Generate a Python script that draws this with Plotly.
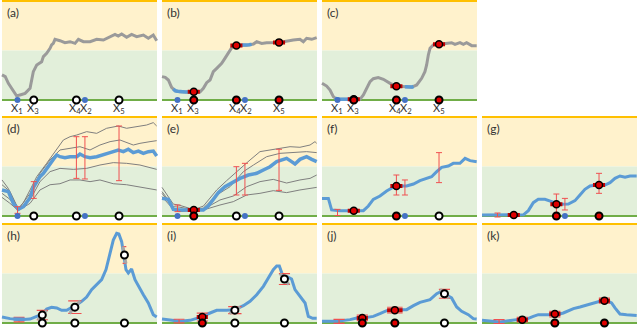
import numpy as np
import plotly.graph_objects as go

W, H = 640, 328
FONT = "Lato, Liberation Sans, Arial, sans-serif"

YELLOW_BG = "#FFF2CC"
GREEN_BG = "#E2EFDA"
YELLOW_LINE = "#FFC000"
GREEN_LINE = "#70AD47"
GRAY = "#9A9A9A"
THIN_GRAY = "#7F7F7F"
BLUE = "#5B9BD5"
DOT_BLUE = "#4472C4"
RED = "#E00000"
ERR_RED = "#F05050"

# ---------------- data ----------------
panel_names = ["(a)", "(b)", "(c)", "(d)", "(e)", "(f)", "(g)", "(h)", "(i)", "(j)", "(k)"]

x_obs = [10, 20.5, 48, 53.5, 75.5]          # X1, X3, X4, X2, X5
x_tick_pos = [9.5, 20.2, 46.8, 54.4, 75.4]
x_tick_text = ["X<sub>1</sub>", "X<sub>3</sub>", "X<sub>4</sub>", "X<sub>2</sub>", "X<sub>5</sub>"]
p_obs = [11, 26, 47, 79]                    # row 3 sample locations

a_x = [0, 2.1, 4.1, 7.3, 9.5, 11.6, 14.9, 18.1, 19.1, 20.2, 22.4, 25.6, 26.7, 28.8, 31, 32, 33.1, 34.2,
       37.4, 40.6, 43.9, 47.1, 49.3, 52.5, 56.8, 61.1, 65.4, 69.7, 72.9, 75, 77.2, 80.4, 83.6, 86.9,
       91.2, 94.4, 97.6, 99.8]
a_y = [25.3, 23.6, 16.8, 8.4, 4, 5.1, 6.7, 11.8, 20.2, 28.6, 35.4, 38.7, 43.8, 47.1, 52.2, 55.6, 57.2, 61.3,
       59.9, 57.9, 58.9, 57.2, 61.3, 58.9, 58.9, 61.3, 60.6, 64, 66.3, 64.6, 66.7, 63.3, 66.3, 64,
       65.6, 62.3, 65.6, 59.9]

b_x = [0, 2.1, 4.1, 6.2, 8.4, 11.6, 16, 20.2, 24.5, 26.7, 28.8, 31, 33.1, 35.3, 38.5, 40.6, 42.8, 45, 47.1,
       50.3, 54.6, 59, 61.1, 64.3, 67.5, 71.8, 75, 78.3, 81.5, 84.7, 89, 91.2, 93.3, 96.6, 99.8]
b_y = [23.6, 22.9, 20.2, 12.8, 9.4, 8.4, 8.1, 8.4, 8.1, 11.8, 17.5, 20.2, 28.6, 32, 37, 42.1, 47.1, 52.9, 54.9,
       55.6, 55.2, 56.6, 58.9, 57.2, 57.9, 57.9, 58.2, 58.9, 59.9, 60.6, 61.3, 58.9, 62.3, 61.3, 63]

c_x = [0, 3, 5.2, 7.3, 9.5, 13.8, 20.2, 24.5, 26.7, 28.8, 31, 33.1, 36.3, 39.6, 43.9, 48.2, 52.5, 57.8, 61.1,
       64.3, 66.4, 67.5, 68.6, 69.7, 71.8, 76.1, 80.4, 83.6, 85.8, 89, 91.2, 93.3, 96.6, 99.8]
c_y = [17, 14.1, 10.1, 3.4, 0.7, 0.7, 0.7, 0.7, 5.1, 11.8, 18.5, 21.5, 22.6, 20.9, 16.8, 14.1, 13.5, 12.8, 15.2,
       21.9, 28.6, 35.4, 45.5, 52.2, 55.6, 56.2, 57.2, 57.9, 56.2, 57.9, 56.2, 57.9, 54.9, 54.9]

d_x = [0, 4.1, 7.3, 10.5, 13.8, 18.1, 20.2, 22.4, 24.5, 26.7, 28.8, 31, 33.1, 35.3, 37.4, 40.6, 43.9, 48.2,
       50.3, 53.5, 56.8, 61.1, 65.4, 69.7, 75, 78.3, 81.5, 84.7, 88, 91.2, 94.4, 97.6, 99.8]
d_y = [26.3, 24.6, 12.8, 6.7, 9.4, 18.5, 28.6, 34.7, 39.7, 43.1, 48.1, 53.2, 57.2, 61.6, 59.9, 58.9, 59.9, 59.9,
       62.6, 59.9, 58.9, 59.9, 61.6, 64, 66.7, 65, 67.4, 64, 65.6, 63.3, 65, 65.6, 60.6]
d_thin = [
    ([0, 4, 10.5, 14, 18.1, 22.4, 28.8, 35.3, 39.6, 43.9, 48.2, 54.6, 61.1, 67.5, 75, 80.4, 86.9, 93.3, 97.6, 99.8],
     [36.4, 28, 7.5, 14, 26.3, 39.7, 53.2, 66.7, 76.8, 80.1, 81.8, 85.2, 83.5, 88.6, 90.9, 88.6, 90.2, 91.9, 94.3, 90.9]),
    ([0, 5, 10.5, 18.1, 24.5, 31, 37.4, 43.9, 50.3, 56.8, 63.2, 69.7, 76.1, 84.7, 89, 95.5, 99.8],
     [31.6, 25, 6.5, 22.9, 43.1, 56.6, 66.7, 68.4, 70, 66.7, 71.7, 75.1, 76.8, 71.7, 73.4, 75.1, 76.1]),
    ([0, 5, 10.5, 18.1, 24.5, 31, 37.4, 46, 54.6, 63.2, 71.8, 80.4, 89, 99.8],
     [22.9, 17, 6, 16.2, 34.7, 44.8, 48.1, 47.1, 48.1, 51.5, 53.9, 53.2, 51.5, 47.1]),
    ([0, 5, 10.5, 18.1, 24.5, 31, 37.4, 43.9, 50.3, 56.8, 63.2, 71.8, 80.4, 89, 99.8],
     [18.8, 13, 5.5, 12.8, 26.3, 31.6, 32.6, 36.4, 36.4, 34.7, 36.4, 32.6, 31.6, 29.3, 26.3]),
]
d_err_lo = [2.7, 17.8, 38, 37.4, 35.7]
d_err_hi = [9.4, 34.7, 80.1, 80.1, 90.9]

e_x = [0, 4.1, 7.3, 11.6, 20.2, 26.7, 29.9, 33.1, 36.3, 40.6, 45, 50.3, 55.7, 61.1, 65.4, 69.7, 74, 77.2,
       80.4, 83.6, 85.8, 89, 93.3, 96.6, 99.8]
e_y = [17.8, 16.8, 6.7, 6.1, 6.1, 6.1, 10.1, 16.8, 23.6, 29.6, 33.3, 38, 41.4, 43.1, 46.5, 49.8, 54.9, 56.6,
       58.2, 54.9, 52.5, 57.2, 59.9, 57.2, 54.9]
e_thin = [
    ([0, 7.3, 11, 15, 20.5, 26.7, 35.3, 41.7, 50.3, 56.8, 63.2, 69.7, 76.1, 82.6, 89, 95.5, 98.7, 99.8],
     [28.9, 12, 11, 9, 6.5, 10, 26.3, 35.7, 48.1, 56.6, 65, 66.7, 68.4, 70, 69.4, 71.7, 75.1, 73.4]),
    ([0, 7.3, 11, 20.5, 26.7, 35.3, 43.9, 52.5, 59, 67.5, 76.1, 84.7, 93.3, 99.8],
     [24.6, 9.4, 9, 6.3, 8, 21.2, 29.6, 44.8, 51.5, 59.9, 63.3, 64, 65, 64]),
    ([0, 7.3, 11, 20.5, 26.7, 37.4, 46, 54.6, 63.2, 71.8, 80.4, 89, 95.5, 99.8],
     [22.9, 7.7, 5, 6, 6.7, 16.2, 20.2, 29.6, 34.7, 37, 33.3, 36.4, 38, 41.4]),
    ([0, 7.3, 11, 20.5, 26.7, 37.4, 46, 54.6, 63.2, 71.8, 80.4, 89, 99.8],
     [19.5, 6.7, 4.5, 5.8, 6.1, 11.1, 14.5, 21.2, 22.9, 25.6, 23.6, 26.3, 28.9]),
]
e_err_lo = [4.4, None, 21.2, 21.2, 25.9]
e_err_hi = [11.1, None, 49.8, 53.2, 67.4]

f_x = [0, 4.1, 6.2, 11.6, 20.2, 26.7, 29.9, 33.1, 37.4, 41.7, 46, 50.3, 54.6, 59, 63.2, 67.5, 70.7, 74,
       77.2, 81.5, 84.7, 89, 92.3, 95.5, 99.8]
f_y = [17.8, 17.8, 6.1, 5.4, 5.4, 5.4, 10.1, 16.8, 20.2, 25.3, 29, 30.3, 30.3, 32.3, 35.7, 38, 39.7, 44.8,
       49.1, 50.5, 53.2, 53.2, 58.2, 55.9, 54.9]
f_err_lo = [0.5, 3.4, 21.2, 21.2, 33.7]
f_err_hi = [6.7, 7.4, 41.4, 36.4, 64]

g_x = [0, 11.6, 26.7, 29.9, 33.1, 36.3, 40.6, 45, 50.3, 55.7, 60, 63.2, 66.4, 69.7, 74, 79.3, 82.6, 85.8,
       89, 92.3, 95.5, 99.8]
g_y = [1, 1, 1.2, 5.4, 13.5, 16.8, 16.8, 14.5, 11.8, 12.1, 15.5, 21.2, 26.9, 30.3, 31.3, 31.3, 33.7, 38,
       40.4, 39.1, 40.4, 40.4]
g_err_lo = [-1, -1, 2, 6.1, 22.9]
g_err_hi = [3, 3, 22.2, 17.8, 43.1]

h_x = [0, 5.2, 11.6, 18.1, 22.4, 25.6, 28.8, 32, 35.3, 38.5, 41.7, 44.9, 48.2, 51.4, 54.6, 57.8, 61.1, 64.3,
       67.1, 69.7, 71.8, 74, 75.4, 77.2, 78.7, 80, 81.5, 83.6, 85.8, 88, 91.2, 94.4, 97.6, 99.8]
h_y = [6.1, 4.4, 3.4, 4, 6.7, 8.4, 14.1, 15.8, 15.2, 12.8, 12.8, 15.2, 18.5, 21.9, 26.2, 33.7, 38.7, 43.8,
       53.9, 70.7, 83.8, 90.6, 89.9, 82.2, 67, 53.9, 50.5, 54.5, 43.8, 37, 28.6, 20.2, 8.4, 6.1]

i_x = [0, 5.2, 11.6, 18.1, 24.5, 31, 35.3, 41.7, 47.1, 52.5, 56.8, 61.1, 65.4, 68.6, 71.8, 74, 75.7, 77.2,
       79.3, 81, 83.6, 85.8, 89, 92.3, 94.4, 97.2, 99.8]
i_y = [4, 2.7, 1.7, 2.7, 5.7, 10.1, 12.8, 12.8, 13.5, 17.5, 21.9, 28.6, 37, 45.5, 53.9, 57.6, 57.6, 50.9,
       43.8, 46.5, 44.4, 33.7, 26.9, 20.2, 6.7, 4.7, 4.7]

j_x = [0, 9.5, 18.1, 22.4, 26.7, 33.1, 37.4, 41.7, 48.2, 54.6, 59, 63.2, 69.7, 74, 76.6, 80.4, 83.6, 86.9,
       90.1, 94.4, 97.6, 99.8]
j_y = [1.7, 1.7, 3.4, 5.1, 5.1, 6.7, 9.4, 12.5, 13.5, 13.5, 17.5, 20.9, 23.6, 29.6, 31.6, 28.6, 25.3, 16.2,
       11.8, 8.4, 4.4, 4]

k_x = [0, 11.6, 22.4, 28.8, 33.1, 36.3, 41.7, 48.2, 52.5, 59, 63.2, 71.8, 76.1, 80.4, 83.6, 85.8, 89, 93.3, 99.8]
k_y = [2.7, 1, 3.4, 4, 6.7, 8.4, 8.4, 8.4, 10.1, 14.5, 16.2, 19.5, 21.9, 22.6, 20.2, 15.2, 9.1, 8.4, 7.7]

# observations on the curve (index into x_obs) for rows 1-2
b_obs_idx, b_obs_y = [1, 2, 4], [8.4, 55, 58.2]
c_obs_idx, c_obs_y = [1, 2, 4], [0.7, 14, 56.2]
e_obs_idx, e_obs_y = [1], [6.1]
f_obs_idx, f_obs_y = [1, 2], [5.4, 30.3]
g_obs_idx, g_obs_y = [1, 2, 4], [1, 11.8, 31.3]
b_blue = [(7.3, 19.1), (51.4, 57.8)]
c_blue = [(8.4, 19.1), (53.5, 59)]

# row 3: value, slope half-height, half-width, kind
h_pt_y, h_pt_dy, h_pt_dx, h_pt_kind = [3.4, 8, 16, 68.7], [2.2, 4.7, 6.4, -8.5], [3.5, 3.6, 4.3, 1.2], ["b", "o", "o", "o"]
i_pt_y, i_pt_dy, i_pt_dx, i_pt_kind = [2, 6, 13, 44.4], [1.8, 4, 3.5, -5.5], [3.5, 3.6, 4.3, 3.6], ["", "r", "o", "o"]
j_pt_y, j_pt_dy, j_pt_dx, j_pt_kind = [1.7, 5.1, 13, 29.5], [2, 2.8, 2.9, -4.5], [3.6, 3.6, 5, 3.6], ["", "r", "r", "o"]
k_pt_y, k_pt_dy, k_pt_dx, k_pt_kind = [1.5, 3.4, 9, 22.6], [2, 2.4, 2.8, 2.5], [3.6, 3.6, 3.6, 3.6], ["", "r", "r", "r"]

# markers on the bottom line
bottom_kinds = [
    ["b", "o", "o", "b", "o"],
    ["b", "r", "r", "b", "r"],
    ["b", "r", "r", "b", "r"],
    ["b", "o", "o", "b", "o"],
    ["b", "r", "o", "b", "o"],
    ["", "", "r", "b", "o"],
    ["", "", "r", "b", "r"],
    ["", "o", "o", "o"],
    ["", "r", "o", "o"],
    ["", "r", "r", "o"],
    ["", "", "r", "r"],
]

# ---------------- layout geometry ----------------
COL_LEFT = [2, 162, 322, 482]
PANEL_W = 155
ROW_TB = [(1, 100), (117, 216), (224, 323)]
XR = (-1, 101)
YR = (-4, 101)
grid_pos = [(0, 0), (0, 1), (0, 2), (1, 0), (1, 1), (1, 2), (1, 3), (2, 0), (2, 1), (2, 2), (2, 3)]

fig = go.Figure()
layout = dict(
    width=W, height=H, margin=dict(l=0, r=0, t=0, b=0),
    paper_bgcolor="white", plot_bgcolor="rgba(0,0,0,0)",
    showlegend=False, font=dict(family=FONT, size=12, color="#333333"),
)
shapes, annotations = [], []


def ax_names(i):
    s = "" if i == 0 else str(i + 1)
    return "x" + s, "y" + s, s


for i, (r, c) in enumerate(grid_pos):
    xa, ya, s = ax_names(i)
    left = COL_LEFT[c]
    top, bot = ROW_TB[r]
    ppx = PANEL_W / 100.0
    ppy = (bot - top) / 100.0
    x0 = (left + XR[0] * ppx) / W
    x1 = (left + XR[1] * ppx) / W
    y_top = 1 - (top - (YR[1] - 100) * ppy) / H
    y_bot = 1 - (bot - YR[0] * ppy) / H
    layout["xaxis" + s] = dict(domain=[x0, x1], range=list(XR), visible=False, fixedrange=True, anchor=ya)
    layout["yaxis" + s] = dict(domain=[y_bot, y_top], range=list(YR), visible=False, fixedrange=True, anchor=xa)

    shapes += [
        dict(type="rect", xref=xa, yref=ya, x0=0, x1=100, y0=50, y1=100, fillcolor=YELLOW_BG, line_width=0, layer="below"),
        dict(type="rect", xref=xa, yref=ya, x0=0, x1=100, y0=0, y1=50, fillcolor=GREEN_BG, line_width=0, layer="below"),
        dict(type="line", xref=xa, yref=ya, x0=0, x1=100, y0=100, y1=100, line=dict(color=YELLOW_LINE, width=2), layer="below"),
        dict(type="line", xref=xa, yref=ya, x0=0, x1=100, y0=0, y1=0, line=dict(color=GREEN_LINE, width=2), layer="below"),
    ]
    annotations.append(dict(
        text=panel_names[i], xref="paper", yref="paper", x=(left + 3) / W, y=1 - (top + 2) / H,
        xanchor="left", yanchor="top", showarrow=False, font=dict(size=12, color="#333333"),
    ))
    if r == 0:
        for pos, txt in zip(x_tick_pos, x_tick_text):
            annotations.append(dict(
                text=txt, xref=xa, yref="paper", x=pos, y=1 - 108.5 / H,
                xanchor="center", yanchor="middle", showarrow=False, font=dict(size=11, color="#333333"),
            ))


def line(i, xs, ys, color, width):
    xa, ya, _ = ax_names(i)
    fig.add_trace(go.Scatter(x=xs, y=ys, mode="lines", xaxis=xa, yaxis=ya,
                             line=dict(color=color, width=width), hoverinfo="skip"))


def blue_overlay(i, cx, cy, segs):
    for lo, hi in segs:
        xs = np.linspace(lo, hi, 10)
        line(i, xs, np.interp(xs, cx, cy), BLUE, 3.5)


def errbars(i, lo, hi):
    xa, ya, _ = ax_names(i)
    xs, mids, halves = [], [], []
    for xv, l, h in zip(x_obs, lo, hi):
        if l is None:
            continue
        xs.append(xv)
        mids.append((l + h) / 2)
        halves.append((h - l) / 2)
    fig.add_trace(go.Scatter(
        x=xs, y=mids, mode="markers", xaxis=xa, yaxis=ya, marker=dict(size=1, color="rgba(0,0,0,0)"),
        error_y=dict(type="data", array=halves, color=ERR_RED, thickness=1, width=3), hoverinfo="skip",
    ))


def red_obs(i, xs, ys, half=3.9):
    xa, ya, _ = ax_names(i)
    bx, by = [], []
    for xv, yv in zip(xs, ys):
        bx += [xv - half, xv + half, None]
        by += [yv, yv, None]
    fig.add_trace(go.Scatter(x=bx, y=by, mode="lines", xaxis=xa, yaxis=ya,
                             line=dict(color="#C00000", width=4), hoverinfo="skip"))
    fig.add_trace(go.Scatter(x=xs, y=ys, mode="markers", xaxis=xa, yaxis=ya, cliponaxis=False,
                             marker=dict(size=7, color=RED, line=dict(color="black", width=1.5)),
                             hoverinfo="skip"))


def bottom_markers(i, positions, kinds):
    xa, ya, _ = ax_names(i)
    styles = {
        "b": dict(size=6, color=DOT_BLUE, line=dict(width=0)),
        "o": dict(size=7, color="white", line=dict(color="black", width=2)),
        "r": dict(size=7, color=RED, line=dict(color="black", width=2)),
    }
    for k, st in styles.items():
        xs = [p for p, kk in zip(positions, kinds) if kk == k]
        if xs:
            fig.add_trace(go.Scatter(x=xs, y=[0] * len(xs), mode="markers", xaxis=xa, yaxis=ya,
                                     cliponaxis=False, marker=st, hoverinfo="skip"))


def grad_points(i, cx, cy, ys, dys, dxs, kinds):
    xa, ya, _ = ax_names(i)
    for xv, yv, dy, dx, kind in zip(p_obs, ys, dys, dxs, kinds):
        ady = abs(dy)
        # red caps
        line(i, [xv - dx, xv + dx, None, xv - dx, xv + dx], [yv - ady, yv - ady, None, yv + ady, yv + ady], ERR_RED, 1.2)
        if kind == "o":
            line(i, [xv - dx * 0.8, xv + dx * 0.8], [yv - dy, yv + dy], "#A6A6A6", 3)
            fig.add_trace(go.Scatter(x=[xv], y=[yv], mode="markers", xaxis=xa, yaxis=ya, cliponaxis=False,
                                     marker=dict(size=7, color="white", line=dict(color="black", width=2)),
                                     hoverinfo="skip"))
        elif kind == "r":
            red_obs(i, [xv], [yv], half=dx)
        else:
            line(i, [xv, xv], [yv - ady, yv + ady], ERR_RED, 1.2)
            if kind == "b":
                blue_overlay(i, cx, cy, [(xv - dx, xv + dx)])


# (a)-(c): true functions in gray
line(0, a_x, a_y, GRAY, 3)
line(1, b_x, b_y, GRAY, 3)
blue_overlay(1, b_x, b_y, b_blue)
red_obs(1, [x_obs[k] for k in b_obs_idx], b_obs_y)
line(2, c_x, c_y, GRAY, 3)
blue_overlay(2, c_x, c_y, c_blue)
red_obs(2, [x_obs[k] for k in c_obs_idx], c_obs_y)

# (d)-(g): model mean with uncertainty
for xs, ys in d_thin:
    line(3, xs, ys, THIN_GRAY, 1)
line(3, d_x, d_y, BLUE, 3.5)
errbars(3, d_err_lo, d_err_hi)

for xs, ys in e_thin:
    line(4, xs, ys, THIN_GRAY, 1)
line(4, e_x, e_y, BLUE, 3.5)
errbars(4, e_err_lo, e_err_hi)
red_obs(4, [x_obs[k] for k in e_obs_idx], e_obs_y)

line(5, f_x, f_y, BLUE, 3)
errbars(5, f_err_lo, f_err_hi)
red_obs(5, [x_obs[k] for k in f_obs_idx], f_obs_y)

line(6, g_x, g_y, BLUE, 3)
errbars(6, g_err_lo, g_err_hi)
red_obs(6, [x_obs[k] for k in g_obs_idx], g_obs_y)

# (h)-(k)
line(7, h_x, h_y, BLUE, 3)
grad_points(7, h_x, h_y, h_pt_y, h_pt_dy, h_pt_dx, h_pt_kind)
line(8, i_x, i_y, BLUE, 3)
grad_points(8, i_x, i_y, i_pt_y, i_pt_dy, i_pt_dx, i_pt_kind)
line(9, j_x, j_y, BLUE, 3)
grad_points(9, j_x, j_y, j_pt_y, j_pt_dy, j_pt_dx, j_pt_kind)
line(10, k_x, k_y, BLUE, 3)
grad_points(10, k_x, k_y, k_pt_y, k_pt_dy, k_pt_dx, k_pt_kind)

for i, kinds in enumerate(bottom_kinds):
    bottom_markers(i, x_obs if i < 7 else p_obs, kinds)

layout["shapes"] = shapes
layout["annotations"] = annotations
fig.update_layout(**layout)
# the page's default body margin would push the figure off the 640x328 window
fig.write_html(
    "out.html",
    config={"displayModeBar": False},
    post_script="document.body.style.margin='0';document.body.style.overflow='hidden';",
)
